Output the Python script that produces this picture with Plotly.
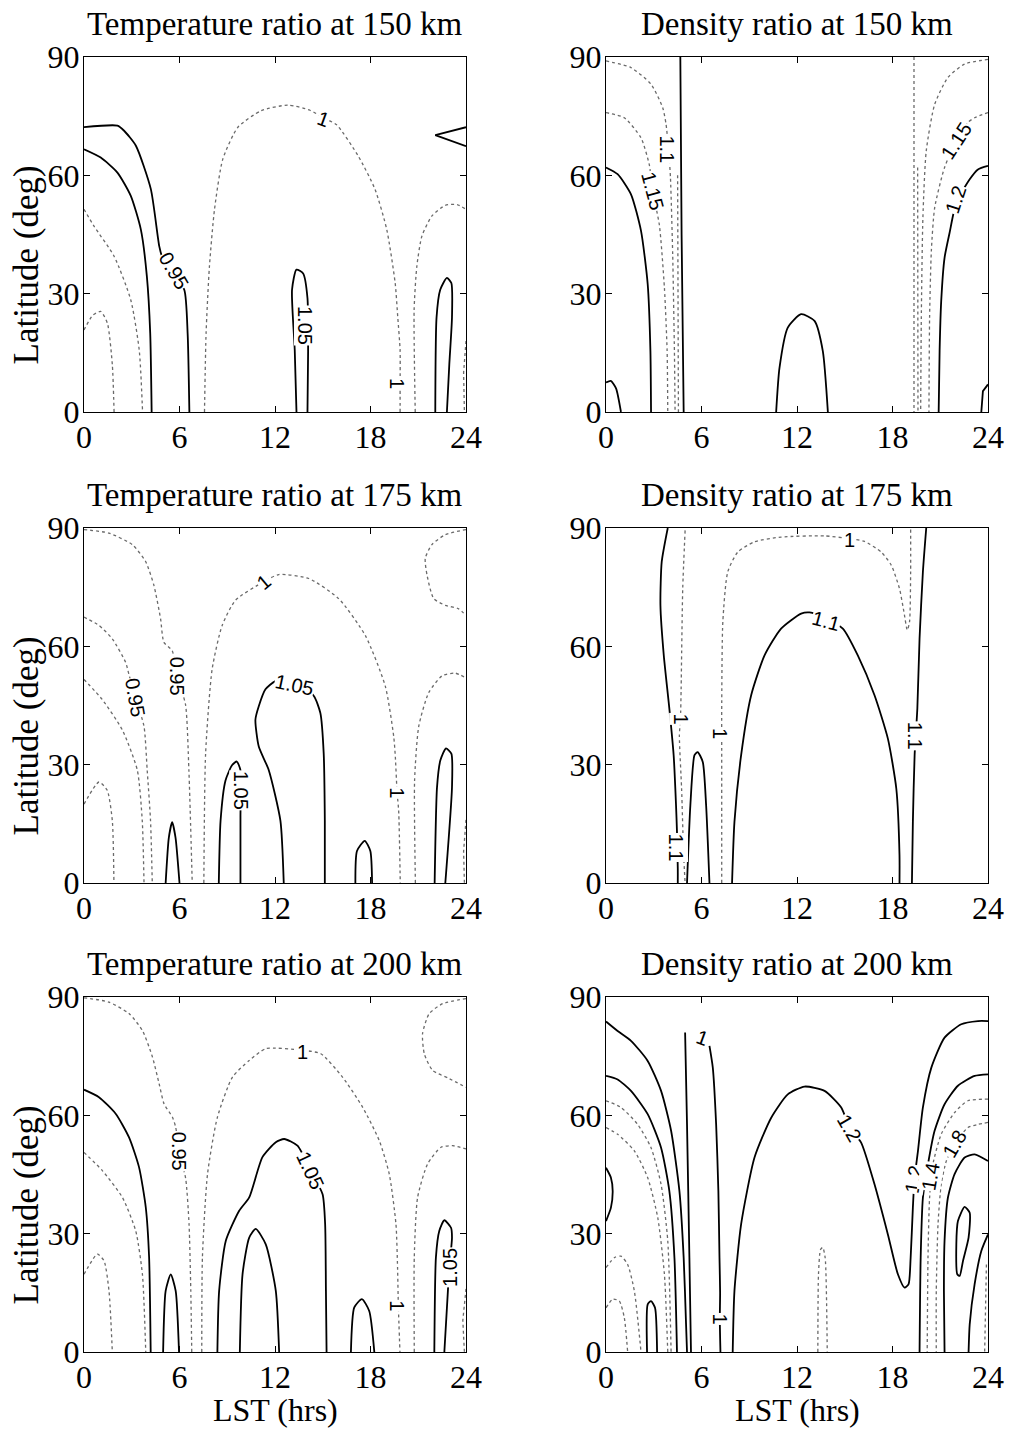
import plotly.graph_objects as go

W, H = 1011, 1429
LST_TICKS = [0, 6, 12, 18, 24]
LAT_TICKS = [0, 30, 60, 90]
TITLES = ["Temperature ratio at 150 km", "Density ratio at 150 km",
          "Temperature ratio at 175 km", "Density ratio at 175 km",
          "Temperature ratio at 200 km", "Density ratio at 200 km"]

# ---- contour lines: (LST hrs, latitude deg) ----
T150_SOLID = [
    ([0, 2.10, 2.52, 3.26, 4.20, 4.73, 4.94, 5.6, 6.30, 6.51, 6.62], [72.2, 72.6, 71.3, 67.5, 56.5, 42.0, 39.0, 35, 31.0, 20.0, 0]),
    ([0, 1.05, 2.10, 2.94, 3.57, 3.95, 4.16, 4.25], [66.6, 64.5, 60.7, 54.8, 46.3, 34.4, 20, 0]),
    ([13.35, 13.24, 13.07, 13.35, 13.77, 14.04, 14.08, 14.04], [0, 15.7, 31.0, 36.1, 35.1, 28.9, 15.3, 0]),
    ([22.07, 22.15, 22.38, 22.80, 23.08, 23.12, 22.95, 22.80], [0, 24, 31, 34, 32.7, 24, 12, 0]),
    ([24, 22.07, 24], [72.2, 70.2, 67.4]),
]
T150_DOTTED = [
    ([7.57, 7.67, 7.88, 8.20, 8.72, 9.67, 11.14, 12.82, 14.2, 15.03, 15.87, 17.23, 18.28, 19.02, 19.55, 19.71, 19.86, 19.86, 19.86],
     [0, 20, 36.9, 51.4, 64.1, 72.2, 76.4, 77.8, 76.5, 74.6, 72.8, 64.9, 56.5, 46.3, 32.7, 24.2, 15.7, 7, 0]),
    ([20.81, 20.74, 20.91, 21.23, 21.86, 22.70, 23.43, 24], [0, 25.9, 36.9, 44.6, 49.7, 52.4, 52.6, 51.4]),
    ([0, 0.63, 1.89, 2.94, 3.47, 3.68], [51.4, 47.1, 39.5, 28.4, 15.7, 0]),
    ([0, 0.55, 1.05, 1.47, 1.78, 1.89], [20.8, 24.5, 25.5, 22.5, 12, 0]),
    ([24, 23.85, 23.9], [18, 10, 0]),
]
T150_LABELS = [("0.95", 5.65, 35.7, 60), ("1.05", 13.9, 22, 90), ("1", 15.03, 74.4, 20), ("1", 19.7, 7.2, 90)]

D150_SOLID = [
    ([4.67, 4.75, 4.88], [90, 45, 0]),
    ([0, 0.73, 1.57, 2.2, 2.62, 2.79, 2.83], [62, 60.3, 55.2, 45.9, 32.4, 15.5, 0]),
    ([0, 0.3, 0.63, 0.94], [7.5, 7.9, 6, 0]),
    ([10.69, 10.90, 11.42, 12.26, 13.1, 13.62, 13.94], [0, 11.2, 21.4, 24.8, 23.1, 15.5, 0]),
    ([24, 23.37, 22.85, 22.0, 21.59, 21.27, 21.06, 20.96, 20.9], [62.4, 61.5, 59.0, 53, 45.5, 39.1, 28.1, 15.5, 0]),
    ([23.58, 23.68, 24], [0, 5.3, 7]),
]
D150_DOTTED = [
    ([0, 1.57, 2.83, 3.56, 3.77, 3.95, 4.05, 4.19, 4.3, 4.34], [89, 87.3, 83.1, 77.2, 73, 65.8, 59.4, 40, 15, 0]),
    ([0, 1.15, 2.2, 2.72, 2.93, 3.35, 3.67, 3.84, 3.88], [75.9, 74.6, 69.5, 62.7, 56, 47.5, 31.5, 15.5, 0]),
    ([4.5, 4.52, 4.55], [60, 30, 0]),
    ([19.35, 19.35, 19.35], [90, 45, 0]),
    ([24, 22.53, 21.48, 20.65, 20.12, 19.91, 19.81, 19.77], [89.4, 88.2, 84.8, 78, 66.2, 49.3, 23.9, 0]),
    ([24, 23.16, 22.74, 22.0, 21.27, 20.65, 20.44, 20.33, 20.29], [75.9, 74.6, 73.4, 68.7, 62, 51.8, 40.8, 23.9, 0]),
    ([19.58, 19.58, 19.6], [62, 30, 0]),
]
D150_LABELS = [("1.1", 3.85, 66.5, 90), ("1.15", 2.93, 56, 75), ("1.15", 22.0, 68.7, -57), ("1.2", 22.0, 53.9, -72)]

T175_SOLID = [
    ([5.13, 5.33, 5.54, 5.75, 6.0], [0, 11.5, 15.4, 11.5, 0]),
    ([8.47, 8.58, 8.89, 9.31, 9.6, 9.83, 9.83, 9.83], [0, 15.8, 26, 29.9, 30.8, 28.6, 17, 0]),
    ([12.55, 12.34, 11.61, 10.98, 10.77, 10.98, 11.40, 12.03, 13.2, 14.44, 14.85, 15.06, 15.13, 15.13],
     [0, 15.8, 28.6, 34.6, 41.4, 44.8, 49.1, 51.2, 51.3, 47.4, 43.1, 32.8, 15.8, 0]),
    ([17.05, 17.15, 17.64, 17.99, 18.1], [0, 8.1, 10.7, 8.1, 0]),
    ([22.03, 22.18, 22.39, 22.74, 23.08, 23.12, 22.7], [0, 24.3, 31.1, 34.1, 32.8, 24.3, 0]),
]
T175_DOTTED = [
    ([0, 1.57, 3.03, 3.87, 4.39, 4.81, 5.02, 5.54, 5.86, 6.38, 6.59, 6.80], [89.6, 88.7, 85.8, 81.5, 75.5, 67, 61, 58.9, 52.5, 45.2, 28.6, 0]),
    ([0, 0.94, 1.78, 2.62, 2.82, 3.24, 3.77, 3.97, 4.18, 4.29], [67.4, 65.3, 61.9, 55.9, 52.9, 47, 39.7, 28.6, 15.8, 0]),
    ([0, 1.15, 2.41, 3.35, 3.66, 3.77], [51.6, 46.5, 38.8, 28.6, 15.8, 0]),
    ([0, 0.94, 1.46, 1.78, 1.88], [20, 25.6, 23.5, 15.8, 0]),
    ([7.53, 7.64, 8.05, 8.68, 9.52, 11.30, 12.24, 14.12, 16.0, 17.68, 18.93, 19.46, 19.56, 19.67, 19.77, 19.87],
     [0, 32.8, 54.2, 65.3, 71.7, 76.4, 78.2, 77.2, 72.1, 62.7, 49.9, 37.1, 32.0, 23, 18.3, 0]),
    ([20.82, 20.77, 21.03, 21.65, 22.49, 23.33, 24], [0, 26, 39.7, 48.2, 52.5, 53.2, 52.0]),
    ([24, 22.7, 21.86, 21.44, 21.55, 21.97, 22.7, 23.54, 24], [89.6, 88.3, 85.8, 82.3, 78.1, 72.1, 70.4, 69.5, 67.8]),
    ([24, 23.85, 23.9], [16, 8, 0]),
]
T175_LABELS = [("0.95", 5.86, 52.5, 90), ("0.95", 3.24, 47, 80), ("1", 11.3, 76.4, -40), ("1", 19.67, 23, 90),
               ("1.05", 9.83, 23.5, 90), ("1.05", 13.25, 50.3, 12)]

D175_SOLID = [
    ([3.88, 3.50, 3.42, 3.63, 3.98, 4.25, 4.40, 4.46, 4.51, 4.51], [90, 81.4, 70.4, 57.7, 44.2, 32.4, 19.7, 12.9, 3.6, 0]),
    ([5.09, 5.30, 5.56, 5.76, 6.08, 6.29, 6.5], [0, 19.7, 32.4, 33.2, 30.7, 19.7, 0]),
    ([7.92, 8.07, 8.49, 9.12, 9.96, 11.0, 12.26, 12.79, 13.83, 14.88, 15.82, 16.87, 17.71, 18.24, 18.44, 18.44],
     [0, 15.5, 32.4, 47.6, 57.7, 64.5, 68.3, 68.6, 67, 64.5, 57.7, 47.6, 36.6, 23.9, 7.0, 0]),
    ([20.12, 19.91, 19.70, 19.56, 19.39, 19.28, 19.22], [90, 78.9, 62, 44.2, 32.4, 15.5, 0]),
]
D175_DOTTED = [
    ([4.97, 4.82, 4.72, 4.68, 4.61, 4.75, 4.88, 4.97], [89.4, 74.6, 49.3, 41.7, 37.4, 23.9, 7, 0]),
    ([7.27, 7.27, 7.27, 7.34, 7.65, 8.28, 9.33, 11.0, 13.73, 15.3, 16.24, 17.29, 17.92, 18.44, 18.72, 18.93, 19.07, 19.14, 19.14],
     [0, 34.1, 44.2, 66.2, 78.9, 83.9, 86.5, 87.7, 88.0, 87.3, 86.6, 83.9, 80.6, 74.6, 68.7, 64.1, 66.2, 78.9, 89.9]),
]
D175_LABELS = [("1", 4.72, 41.7, 90), ("1", 7.19, 37.9, 90), ("1.1", 4.46, 9.0, 90), ("1", 15.3, 86.9, 0),
               ("1.1", 13.83, 66.3, 15), ("1.1", 19.39, 37.4, 90)]

T200_SOLID = [
    ([0, 0.94, 1.99, 2.83, 3.46, 3.88, 4.09, 4.19], [66.5, 64.6, 60.4, 54.4, 46.8, 36.7, 24, 0]),
    ([4.97, 5.13, 5.45, 5.76, 5.97], [0, 15.5, 19.7, 15.5, 0]),
    ([8.38, 8.49, 8.91, 9.75, 10.38, 11.21, 12.05, 12.58, 13.41, 14.25, 14.99, 15.15, 15.20, 15.24],
     [0, 15.5, 28.2, 35.8, 39.2, 49.4, 53.2, 54.0, 52.3, 46, 40, 32.4, 15.5, 0]),
    ([9.79, 9.96, 10.38, 10.79, 11.42, 12.05, 12.26], [0, 19.7, 29, 31.2, 27.3, 15.5, 0]),
    ([16.77, 16.98, 17.46, 17.92, 18.24], [0, 11.3, 13.4, 10.4, 0]),
    ([22.01, 22.11, 22.32, 22.64, 23.06, 23.12, 22.95, 22.85, 22.64], [0, 24, 30.7, 33.4, 31.5, 29.0, 21.4, 14.6, 0]),
]
T200_DOTTED = [
    ([0, 1.57, 2.83, 3.67, 4.30, 4.72, 5.03, 5.56, 5.76, 5.97, 6.39, 6.60, 6.71, 6.77],
     [89.8, 88.7, 85.8, 81.5, 74.8, 68, 62.9, 59.5, 57, 51, 43.9, 32.4, 15.5, 0]),
    ([0, 1.15, 2.41, 3.25, 3.67, 3.88], [50.6, 46, 39.2, 30.7, 19.7, 0]),
    ([0, 0.84, 1.26, 1.57, 1.78], [19.7, 24.8, 23.1, 15.5, 0]),
    ([7.40, 7.44, 7.76, 8.38, 9.33, 10.38, 11.42, 13.73, 14.88, 16.24, 17.50, 18.55, 19.18, 19.60, 19.70, 19.75, 19.85],
     [0, 24, 45.1, 59.5, 69.7, 73.9, 76.9, 76.5, 75.6, 69.7, 62.1, 53.6, 45.1, 32.4, 21.4, 11.7, 0]),
    ([20.75, 20.75, 20.96, 21.59, 22.43, 23.16, 24], [0, 24, 39.2, 47.7, 51.9, 52.3, 51.5]),
    ([24, 22.53, 21.69, 21.27, 21.38, 21.9, 22.95, 24], [89.6, 88.3, 85.8, 80.7, 75.6, 71.4, 69.3, 67.1]),
    ([24, 23.8, 23.9], [16, 8, 0]),
]
T200_LABELS = [("0.95", 5.97, 51, 90), ("1", 13.73, 76, 0), ("1", 19.7, 11.7, 90),
               ("1.05", 14.25, 46, 65), ("1.05", 22.95, 21.4, -90)]

D200_SOLID = [
    ([0, 0.73, 1.57, 2.62, 3.46, 4.09, 4.61, 4.88, 5.03, 5.09], [83.8, 81.4, 78.9, 73.8, 66.2, 56.1, 40.9, 23.9, 7, 0]),
    ([4.97, 5.09, 5.24, 5.34], [81, 57.7, 23.9, 0]),
    ([6.5, 6.71, 6.92, 7.06, 7.13, 7.17, 7.15, 7.19], [77.6, 72.1, 57.7, 40.8, 23.9, 15.0, 8.3, 0]),
    ([7.96, 8.07, 8.49, 9.33, 10.38, 11.42, 12.47, 13.73, 14.78, 15.30, 16.03, 16.87, 17.71, 18.34, 18.76, 19.01, 19.14, 19.28,
      19.38, 19.60, 19.91, 20.44, 21.27, 22.32, 23.37, 24],
     [0, 15.5, 32.4, 49.3, 59.4, 65.3, 67.3, 66.2, 62, 56.9, 53.1, 42.5, 29.8, 19.7, 16.3, 17.2, 23.9, 36.6,
      43.8, 51, 62, 72.1, 79.7, 83.1, 83.9, 83.9]),
    ([24, 23.16, 22.11, 21.27, 20.64, 20.23, 19.91, 19.77, 19.70], [70.4, 70.0, 67.5, 62.8, 56.0, 47.6, 39.1, 23.9, 0]),
    ([24, 23.16, 22.53, 21.9, 21.48, 21.27, 21.23, 21.27], [48.4, 50.1, 49.3, 45.1, 39.1, 28.2, 15.5, 0]),
    ([22.07, 22.01, 22.11, 22.53, 22.85, 22.78, 22.43, 22.22, 22.07], [19.7, 27.3, 33.2, 36.8, 35.3, 29.0, 23.1, 19.3, 19.7]),
    ([24, 23.58, 23.16, 22.85, 22.78], [29.8, 25.6, 17.2, 7.0, 0]),
    ([0, 0.73, 1.57, 2.62, 3.46, 3.98, 4.30, 4.46], [70, 69.1, 66.2, 60.3, 51.8, 40.8, 23.9, 0]),
    ([0, 0.31, 0.42, 0.31, 0], [46.7, 44.2, 40.8, 36.6, 33.2]),
    ([2.58, 2.62, 2.83, 3.08, 3.21], [0, 12.1, 12.9, 11.2, 0]),
]
D200_DOTTED = [
    ([24, 22.74, 21.9, 21.06, 20.54, 20.33, 20.23, 20.18], [64.1, 63.7, 60.7, 55.2, 47.6, 39.1, 23.9, 0]),
    ([24, 23.37, 22.74, 21.9, 21.38, 21.06, 20.86, 20.75, 20.75], [58.2, 57.7, 56.9, 52.7, 48.4, 42.5, 32.4, 15.5, 0]),
    ([23.9, 23.79], [22.2, 0]),
    ([0, 0.94, 1.99, 2.83, 3.46, 3.88, 4.09], [63.7, 62, 57.7, 51.8, 42.5, 28.2, 0]),
    ([0, 0.73, 1.78, 2.62, 3.25, 3.67, 3.88], [56.9, 55.2, 51, 44.2, 34.1, 19.7, 0]),
    ([0, 0.52, 0.94, 1.36, 1.78, 2.2], [21.4, 23.9, 24.3, 22.2, 15.5, 0]),
    ([0, 0.42, 0.84, 1.15, 1.36], [11.2, 13.4, 12.9, 8.7, 0]),
    ([13.31, 13.35, 13.48, 13.62, 13.77, 13.9], [0, 19.7, 26, 26.5, 23.9, 0]),
]
D200_LABELS = [("1", 6.08, 79.7, 20), ("1", 7.15, 8.3, 90), ("1.2", 15.3, 56.9, 60), ("1.2", 19.35, 43.8, -80),
               ("1.4", 20.42, 44.5, -80), ("1.8", 21.9, 52.7, -60)]

PANELS = [
    (T150_SOLID, T150_DOTTED, T150_LABELS), (D150_SOLID, D150_DOTTED, D150_LABELS),
    (T175_SOLID, T175_DOTTED, T175_LABELS), (D175_SOLID, D175_DOTTED, D175_LABELS),
    (T200_SOLID, T200_DOTTED, T200_LABELS), (D200_SOLID, D200_DOTTED, D200_LABELS),
]

# ---- layout geometry (pixels) ----
COL_X = [(84, 466), (606, 988)]
ROW_TOP = [57, 528, 997]
PANEL_H = 355

SERIF = "Liberation Serif, Times New Roman, serif"
SANS = "Liberation Sans, Arial, sans-serif"

fig = go.Figure()
layout = dict(width=W, height=H, margin=dict(l=0, r=0, t=0, b=0, autoexpand=False),
              paper_bgcolor="white", plot_bgcolor="white", showlegend=False)
annotations = []


def shape_for(n):
    return "spline" if n > 3 else "linear"


for i, (solid, dotted, labels) in enumerate(PANELS):
    r, c = divmod(i, 2)
    k = i + 1
    xa, ya = f"x{k}", f"y{k}"
    x0, x1 = COL_X[c]
    top = ROW_TOP[r]
    bot = top + PANEL_H
    xdom = [x0 / W, x1 / W]
    ydom = [1 - bot / H, 1 - top / H]
    axis_common = dict(showgrid=False, zeroline=False, showline=True, linecolor="black", linewidth=1.2,
                       mirror="ticks", ticks="inside", ticklen=6, tickcolor="black", tickwidth=1,
                       automargin=False,
                       tickfont=dict(family=SERIF, size=32, color="black"))
    layout[f"xaxis{k}"] = dict(domain=xdom, range=[0, 24], tickvals=LST_TICKS, anchor=ya,
                               ticklabelstandoff=-4, **axis_common)
    layout[f"yaxis{k}"] = dict(domain=ydom, range=[0, 90], tickvals=LAT_TICKS, anchor=xa,
                               ticklabelstandoff=-3, **axis_common)
    for lx, ly in dotted:
        fig.add_trace(go.Scatter(x=lx, y=ly, mode="lines", xaxis=xa, yaxis=ya, hoverinfo="skip",
                                 line=dict(color="#6a6a6a", width=1.3, dash="dot",
                                           shape=shape_for(len(lx)), smoothing=0.6)))
    for lx, ly in solid:
        fig.add_trace(go.Scatter(x=lx, y=ly, mode="lines", xaxis=xa, yaxis=ya, hoverinfo="skip",
                                 line=dict(color="black", width=1.8,
                                           shape=shape_for(len(lx)), smoothing=0.6)))
    for txt, lx, ly, ang in labels:
        annotations.append(dict(x=lx, y=ly, xref=xa, yref=ya, text=txt, showarrow=False, textangle=ang,
                                font=dict(family=SANS, size=20, color="black"), bgcolor="white", borderpad=0))
    # title
    annotations.append(dict(x=(x0 + x1) / 2 / W, y=1 - (top - 33) / H, xref="paper", yref="paper",
                            text=TITLES[i], showarrow=False, xanchor="center", yanchor="middle",
                            font=dict(family=SERIF, size=33, color="black")))
    if c == 0:
        annotations.append(dict(x=26 / W, y=1 - (top + PANEL_H / 2 + 31) / H, xref="paper", yref="paper",
                                text="Latitude (deg)", showarrow=False, textangle=-90,
                                xanchor="center", yanchor="middle",
                                font=dict(family=SERIF, size=35, color="black")))
    if r == 2:
        annotations.append(dict(x=(x0 + x1) / 2 / W, y=1 - 1410 / H, xref="paper", yref="paper",
                                text="LST (hrs)", showarrow=False, xanchor="center", yanchor="middle",
                                font=dict(family=SERIF, size=32, color="black")))

layout["annotations"] = annotations
fig.update_layout(**layout)
fig.write_html("out.html")
